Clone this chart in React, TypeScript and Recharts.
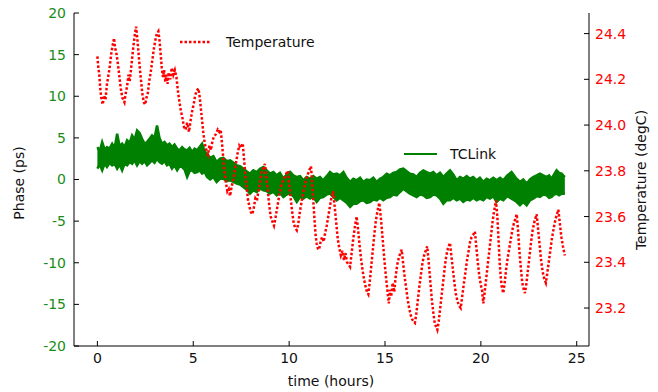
import { Area, ComposedChart, Line, XAxis, YAxis } from "recharts";
import type { CSSProperties } from "react";

// TCLink phase band (ps): time, lower and upper edge of the noisy trace
const phaseHours = [
  0.0, 0.12, 0.25, 0.38, 0.5, 0.63, 0.77, 0.9, 1.03, 1.16, 1.29, 1.42, 1.55, 1.68, 1.81, 1.94, 2.07, 2.2, 2.33, 2.46,
  2.59, 2.72, 2.85, 2.98, 3.11, 3.24, 3.37, 3.5, 3.63, 3.76, 3.89, 4.02, 4.16, 4.29, 4.42, 4.55, 4.68, 4.81, 4.94,
  5.07, 5.2, 5.33, 5.46, 5.59, 5.72, 5.88, 6.05, 6.22, 6.4, 6.57, 6.75, 6.92, 7.1, 7.27, 7.44, 7.61, 7.78, 7.96, 8.13,
  8.31, 8.48, 8.66, 8.83, 9.0, 9.18, 9.35, 9.52, 9.7, 9.87, 10.05, 10.22, 10.4, 10.57, 10.74, 10.91, 11.09, 11.26,
  11.44, 11.61, 11.78, 11.96, 12.13, 12.3, 12.48, 12.65, 12.83, 13.0, 13.18, 13.35, 13.52, 13.7, 13.87, 14.04, 14.22,
  14.39, 14.57, 14.74, 14.91, 15.09, 15.26, 15.43, 15.61, 15.78, 15.96, 16.13, 16.3, 16.48, 16.65, 16.82, 17.0, 17.17,
  17.35, 17.52, 17.69, 17.87, 18.04, 18.21, 18.39, 18.56, 18.74, 18.91, 19.08, 19.26, 19.43, 19.6, 19.78, 19.95,
  20.13, 20.3, 20.47, 20.65, 20.82, 21.0, 21.17, 21.38, 21.6, 21.82, 22.04, 22.21, 22.39, 22.56, 22.73, 22.91, 23.08,
  23.25, 23.43, 23.56, 23.69, 23.82, 23.95, 24.08, 24.21, 24.38,
];
const phaseLow = [
  1.3, 1.8, 1.1, 1.9, 1.5, 2.0, 1.7, 1.9, 1.3, 1.8, 1.1, 1.9, 1.7, 2.1, 1.9, 2.3, 1.7, 2.2, 1.9, 2.2,
  1.7, 2.0, 2.3, 2.0, 2.5, 2.1, 1.9, 2.2, 1.7, 1.9, 1.3, 1.7, 1.1, 1.6, 1.5, 1.2, 0.3, 1.0, 1.1,
  0.8, 0.9, 1.1, 0.7, 0.9, 0.3, 0.0, 0.3, -0.3, 0.1, 0.1, -0.2, -0.1, -0.3, -0.5, -0.6, -0.9, -1.2, -1.7, -1.3,
  -1.5, -1.1, -1.3, -1.4, -1.7, -1.5, -1.9, -1.6, -2.1, -1.8, -1.7, -2.0, -2.7, -2.1, -2.3, -2.0, -2.3, -2.1,
  -2.7, -2.2, -2.1, -1.8, -1.7, -2.1, -2.5, -2.2, -2.5, -2.8, -3.3, -2.9, -2.9, -2.6, -2.5, -2.8, -2.7,
  -2.4, -2.5, -2.2, -2.5, -2.2, -2.1, -1.8, -1.9, -1.5, -1.1, -1.4, -1.7, -1.9, -2.1, -1.8, -1.9, -2.2,
  -2.1, -1.8, -1.9, -2.3, -2.9, -2.5, -2.5, -2.2, -2.5, -2.3, -2.7, -2.4, -2.5, -2.2, -2.5, -2.3,
  -2.5, -2.1, -2.3, -2.0, -2.7, -2.3, -2.5, -2.0, -2.3, -2.6, -3.1, -2.7, -3.1, -2.5, -2.3, -2.0, -2.1,
  -1.8, -1.9, -2.2, -2.1, -1.8, -1.7, -1.9, -1.7, -1.7,
];
const phaseHigh = [
  3.9, 3.4, 4.5, 3.6, 3.9, 3.7, 4.3, 3.8, 5.5, 4.0, 4.3, 3.9, 4.7, 4.4, 5.3, 4.8, 5.9, 5.6, 4.9, 4.3,
  4.5, 4.9, 5.3, 5.0, 6.5, 5.0, 4.3, 4.5, 4.1, 4.3, 3.9, 4.2, 3.7, 3.5, 3.9, 3.6, 3.5, 3.8, 3.3,
  3.7, 3.5, 3.9, 4.3, 3.4, 3.1, 2.6, 2.8, 2.1, 2.5, 2.6, 2.2, 2.3, 2.0, 1.7, 1.6, 1.3, 1.0, 0.7, 1.1,
  0.9, 1.3, 1.5, 1.1, 0.7, 0.9, 0.5, 0.8, 0.1, 0.6, 0.9, 0.5, 0.3, 0.4, -0.1, 0.3, 0.1, 0.4,
  0.1, 0.3, -0.1, 0.4, 0.9, 0.6, 0.7, 0.5, 0.9, 0.2, -0.3, 0.1, -0.1, 0.2, -0.3, 0.0, -0.1,
  0.2, -0.3, 0.1, 0.3, 0.7, 0.5, 0.8, 0.9, 1.2, 1.3, 1.0, 0.7, 0.6, 0.3, 0.8, 1.1, 0.9,
  0.7, 0.9, 0.5, 0.8, 0.3, 0.7, 1.1, 0.6, -0.1, 0.3, 0.1, 0.4, 0.1, 0.3, -0.1, 0.2,
  -0.3, 0.1, -0.1, 0.2, -0.1, 0.2, -0.1, 0.5, 0.9, 0.2, -0.3, 0.0, -0.5, 0.0, 0.3, 0.5, 0.7,
  0.5, 0.3, 0.5, 0.1, 0.6, 1.1, 0.8, 0.7, 0.3,
];

// Temperature (degC), dotted red trace
const tempHours = [
  0.0, 0.05, 0.1, 0.15, 0.2, 0.28, 0.35, 0.42, 0.5, 0.58, 0.65, 0.72, 0.8, 0.87, 0.92, 1.0, 1.08, 1.15, 1.22, 1.3,
  1.41, 1.48, 1.55, 1.62, 1.68, 1.75, 1.82, 1.9, 1.96, 2.02, 2.08, 2.14, 2.2, 2.27, 2.34, 2.42, 2.49, 2.56, 2.63,
  2.7, 2.78, 2.86, 2.94, 3.02, 3.1, 3.18, 3.24, 3.3, 3.36, 3.42, 3.48, 3.54, 3.6, 3.66, 3.72, 3.8, 3.88, 3.96, 4.04,
  4.12, 4.2, 4.28, 4.36, 4.44, 4.52, 4.6, 4.68, 4.78, 4.86, 4.94, 5.02, 5.1, 5.18, 5.27, 5.34, 5.4, 5.46, 5.52, 5.58,
  5.65, 5.72, 5.77, 5.84, 5.92, 6.0, 6.08, 6.18, 6.28, 6.36, 6.43, 6.5, 6.56, 6.62, 6.7, 6.78, 6.85, 6.92, 7.0, 7.08,
  7.16, 7.24, 7.32, 7.4, 7.48, 7.58, 7.64, 7.7, 7.78, 7.86, 7.94, 8.0, 8.08, 8.16, 8.24, 8.32, 8.4, 8.48, 8.56, 8.64,
  8.74, 8.8, 8.88, 8.96, 9.04, 9.12, 9.21, 9.28, 9.36, 9.44, 9.52, 9.6, 9.7, 9.8, 9.93, 10.0, 10.08, 10.16, 10.24,
  10.32, 10.4, 10.48, 10.56, 10.64, 10.72, 10.8, 10.88, 10.96, 11.04, 11.14, 11.2, 11.26, 11.32, 11.38, 11.44, 11.5,
  11.56, 11.64, 11.72, 11.8, 11.88, 11.96, 12.04, 12.12, 12.2, 12.3, 12.38, 12.46, 12.54, 12.62, 12.7, 12.78, 12.86,
  12.94, 13.02, 13.1, 13.18, 13.26, 13.34, 13.42, 13.52, 13.6, 13.68, 13.76, 13.84, 13.92, 14.0, 14.06, 14.13, 14.2,
  14.28, 14.36, 14.44, 14.52, 14.6, 14.7, 14.78, 14.86, 14.94, 15.0, 15.06, 15.12, 15.2, 15.26, 15.32, 15.4, 15.48,
  15.56, 15.64, 15.72, 15.8, 15.87, 15.94, 16.02, 16.1, 16.18, 16.26, 16.34, 16.42, 16.5, 16.56, 16.64, 16.72, 16.8,
  16.88, 16.96, 17.04, 17.12, 17.2, 17.28, 17.36, 17.44, 17.52, 17.6, 17.66, 17.73, 17.8, 17.88, 17.96, 18.04, 18.12,
  18.2, 18.28, 18.39, 18.46, 18.54, 18.62, 18.7, 18.78, 18.86, 18.95, 19.04, 19.12, 19.2, 19.28, 19.36, 19.44, 19.52,
  19.6, 19.69, 19.76, 19.84, 19.92, 20.0, 20.06, 20.13, 20.2, 20.28, 20.36, 20.44, 20.52, 20.6, 20.68, 20.79, 20.86,
  20.92, 20.98, 21.04, 21.1, 21.17, 21.24, 21.32, 21.4, 21.48, 21.56, 21.64, 21.72, 21.8, 21.87, 21.94, 22.0, 22.08,
  22.16, 22.24, 22.3, 22.38, 22.46, 22.54, 22.62, 22.7, 22.8, 22.91, 22.98, 23.06, 23.14, 23.22, 23.3, 23.39, 23.46,
  23.54, 23.62, 23.7, 23.8, 23.9, 24.04, 24.12, 24.2, 24.28, 24.38,
];
const tempValues = [
  24.3, 24.25, 24.22, 24.16, 24.12, 24.09, 24.13, 24.11, 24.18, 24.22, 24.26, 24.31, 24.35, 24.38, 24.34, 24.31, 24.26,
  24.21, 24.16, 24.12, 24.1, 24.14, 24.17, 24.22, 24.19, 24.24, 24.3, 24.36, 24.4, 24.43, 24.38, 24.32, 24.26, 24.2,
  24.14, 24.1, 24.09, 24.12, 24.14, 24.19, 24.23, 24.28, 24.33, 24.37, 24.4, 24.41, 24.37, 24.31, 24.25, 24.21, 24.24,
  24.19, 24.22, 24.18, 24.23, 24.2, 24.25, 24.22, 24.24, 24.21, 24.15, 24.1, 24.06, 24.03, 23.99, 23.98, 24.01, 23.97,
  24.02, 24.06, 24.09, 24.13, 24.15, 24.16, 24.12, 24.07, 24.02, 23.97, 23.93, 23.9, 23.88, 23.87, 23.91, 23.89, 23.93,
  23.95, 23.96, 23.98, 23.97, 23.98, 23.92, 23.86, 23.8, 23.75, 23.71, 23.72, 23.69, 23.73, 23.76, 23.8, 23.84, 23.88,
  23.91, 23.9, 23.92, 23.86, 23.8, 23.73, 23.67, 23.64, 23.62, 23.61, 23.64, 23.68, 23.67, 23.71, 23.75, 23.79, 23.81,
  23.83, 23.78, 23.72, 23.65, 23.6, 23.58, 23.56, 23.59, 23.63, 23.67, 23.71, 23.74, 23.76, 23.78, 23.8, 23.74, 23.68,
  23.62, 23.57, 23.55, 23.54, 23.57, 23.62, 23.66, 23.7, 23.73, 23.76, 23.78, 23.8, 23.82, 23.75, 23.67, 23.59, 23.52,
  23.48, 23.46, 23.455, 23.49, 23.51, 23.49, 23.53, 23.56, 23.6, 23.64, 23.68, 23.71, 23.64, 23.57, 23.5, 23.46, 23.43,
  23.45, 23.41, 23.44, 23.4, 23.39, 23.38, 23.44, 23.5, 23.55, 23.6, 23.54, 23.47, 23.41, 23.36, 23.32, 23.29, 23.27,
  23.26, 23.31, 23.38, 23.45, 23.52, 23.58, 23.62, 23.66, 23.6, 23.52, 23.44, 23.38, 23.33, 23.28, 23.22, 23.28, 23.25,
  23.31, 23.27, 23.34, 23.39, 23.42, 23.44, 23.455, 23.4, 23.34, 23.29, 23.24, 23.2, 23.17, 23.15, 23.14, 23.135, 23.18,
  23.24, 23.3, 23.35, 23.4, 23.43, 23.45, 23.47, 23.4, 23.32, 23.24, 23.18, 23.13, 23.12, 23.105, 23.14, 23.2, 23.26,
  23.32, 23.38, 23.43, 23.46, 23.485, 23.43, 23.37, 23.31, 23.26, 23.23, 23.21, 23.2, 23.26, 23.31, 23.36, 23.41,
  23.45, 23.49, 23.51, 23.52, 23.535, 23.47, 23.4, 23.34, 23.3, 23.28, 23.22, 23.27, 23.33, 23.39, 23.45, 23.51, 23.57,
  23.62, 23.67, 23.6, 23.5, 23.4, 23.33, 23.29, 23.265, 23.31, 23.37, 23.42, 23.46, 23.5, 23.54, 23.57, 23.59, 23.61,
  23.54, 23.46, 23.38, 23.31, 23.28, 23.265, 23.31, 23.37, 23.43, 23.49, 23.54, 23.58, 23.61, 23.55, 23.48, 23.41,
  23.36, 23.33, 23.31, 23.35, 23.4, 23.45, 23.5, 23.55, 23.59, 23.63, 23.57, 23.51, 23.47, 23.43,
];

const timeTicks = [0, 5, 10, 15, 20, 25];
const phaseTicks = [-20, -15, -10, -5, 0, 5, 10, 15, 20];
const tempTicks = [23.2, 23.4, 23.6, 23.8, 24.0, 24.2, 24.4];

const phaseData = phaseHours.map((t, i) => ({ t, band: [phaseLow[i], phaseHigh[i]] }));
const tempData = tempHours.map((t, i) => ({ t, temp: tempValues[i] }));

const GREEN = "#008000";
const TICK_GREEN = "#1a8c1a";
const RED = "#ff0000";
const FONT = "'DejaVu Sans', sans-serif";

const textStyle: CSSProperties = {
  position: "absolute",
  fontFamily: FONT,
  fontSize: 14,
  color: "#111",
  whiteSpace: "nowrap",
  lineHeight: 1,
};

export default function App() {
  return (
    <div style={{ position: "absolute", left: 0, top: 0, width: 658, height: 392, background: "#fff" }}>
      <ComposedChart width={658} height={392} margin={{ top: 13, right: 0, bottom: 0, left: 0 }}>
        <XAxis
          xAxisId="bottom"
          type="number"
          dataKey="t"
          domain={[-1.22, 25.64]}
          ticks={timeTicks}
          allowDataOverflow
          height={46}
          axisLine={{ stroke: "#000" }}
          tickLine={{ stroke: "#000" }}
          tickSize={-5}
          tickMargin={12}
          tick={{ fill: "#111", fontSize: 14, fontFamily: FONT }}
        />
        <XAxis
          xAxisId="top"
          orientation="top"
          type="number"
          dataKey="t"
          domain={[-1.22, 25.64]}
          ticks={timeTicks}
          allowDataOverflow
          height={0}
          axisLine={{ stroke: "#000" }}
          tickLine={{ stroke: "#000" }}
          tickSize={-5}
          tickFormatter={() => ""}
        />
        <YAxis
          yAxisId="left"
          domain={[-20, 20]}
          ticks={phaseTicks}
          allowDataOverflow
          width={74}
          axisLine={{ stroke: "#000" }}
          tickLine={{ stroke: "#000" }}
          tickSize={-5}
          tickMargin={13}
          tick={{ fill: TICK_GREEN, fontSize: 14, fontFamily: FONT }}
        />
        <YAxis
          yAxisId="right"
          orientation="right"
          domain={[23.034, 24.49]}
          ticks={tempTicks}
          allowDataOverflow
          width={69}
          axisLine={{ stroke: "#000" }}
          tickLine={{ stroke: "#000" }}
          tickSize={-5}
          tickMargin={11}
          tickFormatter={(v: number) => v.toFixed(1)}
          tick={{ fill: RED, fontSize: 14, fontFamily: FONT }}
        />
        <Area
          data={phaseData}
          xAxisId="bottom"
          yAxisId="left"
          dataKey="band"
          type="linear"
          stroke={GREEN}
          strokeWidth={2.5}
          fill={GREEN}
          fillOpacity={1}
          dot={false}
          activeDot={false}
          isAnimationActive={false}
        />
        <Line
          data={tempData}
          xAxisId="bottom"
          yAxisId="right"
          dataKey="temp"
          type="linear"
          stroke={RED}
          strokeWidth={2.5}
          strokeDasharray="2.5 2"
          dot={false}
          activeDot={false}
          isAnimationActive={false}
        />
      </ComposedChart>

      <svg style={{ position: "absolute", left: 180, top: 37 }} width={32} height={10}>
        <line x1={0} y1={5} x2={31} y2={5} stroke={RED} strokeWidth={2.5} strokeDasharray="2.5 2" />
      </svg>
      <div style={{ ...textStyle, left: 226, top: 35 }}>Temperature</div>

      <svg style={{ position: "absolute", left: 404, top: 149 }} width={34} height={10}>
        <line x1={0} y1={5} x2={33} y2={5} stroke={GREEN} strokeWidth={2} />
      </svg>
      <div style={{ ...textStyle, left: 450, top: 147 }}>TCLink</div>

      <div style={{ ...textStyle, left: 331, top: 374, transform: "translateX(-50%)" }}>time (hours)</div>
      <div style={{ ...textStyle, left: 19, top: 183, transform: "translate(-50%, -50%) rotate(-90deg)" }}>
        Phase (ps)
      </div>
      <div style={{ ...textStyle, left: 641, top: 180, transform: "translate(-50%, -50%) rotate(-90deg)" }}>
        Temperature (degC)
      </div>
    </div>
  );
}
